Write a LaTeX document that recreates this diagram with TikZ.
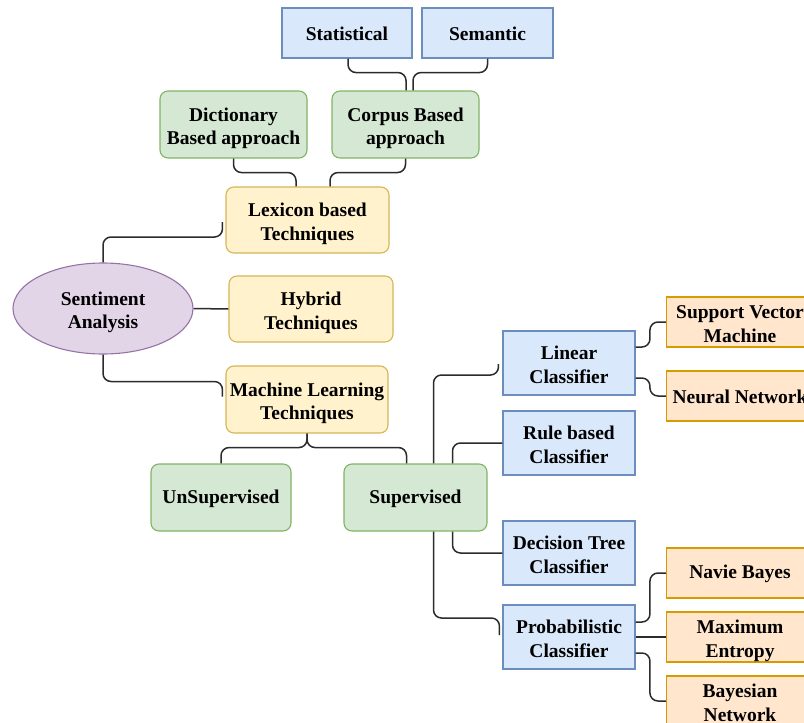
\documentclass[tikz,border=0pt]{standalone}
\usepackage{fontspec}
\setmainfont{Liberation Serif}
\usetikzlibrary{shapes.geometric,calc}
\definecolor{bluefill}{HTML}{DAE8FC}\definecolor{bluedraw}{HTML}{6C8EBF}
\definecolor{greenfill}{HTML}{D5E8D4}\definecolor{greendraw}{HTML}{82B366}
\definecolor{yellowfill}{HTML}{FFF2CC}\definecolor{yellowdraw}{HTML}{D6B656}
\definecolor{purplefill}{HTML}{E1D5E7}\definecolor{purpledraw}{HTML}{9673A6}
\definecolor{orangefill}{HTML}{FFE6CC}\definecolor{orangedraw}{HTML}{D79B00}
\definecolor{linecol}{HTML}{2B2B2B}
\newcommand\twoline[2]{\raisebox{-4pt}[\height][\depth]{\begin{tabular}{@{}c@{}}#1\\#2\end{tabular}}}
\newcommand\oneline[1]{\raisebox{-1pt}[\height][\depth]{#1}}
\tikzset{
  base/.style={align=center, inner sep=0pt, line width=1.1pt, text=black,
    font=\fontsize{19.5}{23.5}\selectfont\bfseries},
  bluebox/.style={base, rectangle, fill=bluefill, draw=bluedraw},
  greenbox/.style={base, rectangle, rounded corners=8pt, fill=greenfill, draw=greendraw},
  yellowbox/.style={base, rectangle, rounded corners=8pt, fill=yellowfill, draw=yellowdraw},
  orangebox/.style={base, rectangle, fill=orangefill, draw=orangedraw, minimum width=147pt, minimum height=50pt},
  purpleell/.style={base, ellipse, fill=purplefill, draw=purpledraw, minimum width=180pt, minimum height=91pt},
  conn/.style={draw=linecol, line width=1.5pt, rounded corners=8pt},
}
\begin{document}
\begin{tikzpicture}[x=1pt,y=-1pt]
\useasboundingbox (0,0) rectangle (804,723);
\clip (0,0) rectangle (804,723);
% nodes
\node[bluebox, minimum width=130pt, minimum height=50pt] (stat) at (347,33) {\oneline{Statistical}};
\node[bluebox, minimum width=131pt, minimum height=50pt] (sem) at (487.5,33) {\oneline{Semantic}};
\node[greenbox, minimum width=147pt, minimum height=67pt] (dict) at (233.5,124.5) {\twoline{Dictionary}{Based approach}};
\node[greenbox, minimum width=147pt, minimum height=67pt] (corp) at (405.5,124.5) {\twoline{Corpus Based}{approach}};
\node[yellowbox, minimum width=163pt, minimum height=66pt] (lex) at (307.5,220) {\twoline{Lexicon based}{Techniques}};
\node[purpleell] (sa) at (103,308.5) {\twoline{Sentiment}{Analysis}};
\node[yellowbox, minimum width=164pt, minimum height=66pt] (hyb) at (311,309) {\twoline{Hybrid}{Techniques}};
\node[yellowbox, minimum width=162pt, minimum height=67pt] (ml) at (307,399.5) {\twoline{Machine Learning}{Techniques}};
\node[greenbox, minimum width=140pt, minimum height=67pt] (uns) at (221,497.5) {\oneline{UnSupervised}};
\node[greenbox, minimum width=143pt, minimum height=67pt] (sup) at (415.5,497.5) {\oneline{Supervised}};
\node[bluebox, minimum width=132pt, minimum height=64pt] (lin) at (569,363) {\twoline{Linear}{Classifier}};
\node[bluebox, minimum width=132pt, minimum height=64pt] (rule) at (569,443) {\twoline{Rule based}{Classifier}};
\node[bluebox, minimum width=132pt, minimum height=64pt] (dec) at (569,553) {\twoline{Decision Tree}{Classifier}};
\node[bluebox, minimum width=132pt, minimum height=64pt] (prob) at (569,637) {\twoline{Probabilistic}{Classifier}};
\node[orangebox] (svm) at (740,322) {\twoline{Support Vector}{Machine}};
\node[orangebox] (nn) at (740,396) {\oneline{Neural Network}};
\node[orangebox] (nb) at (740,573) {\oneline{Navie Bayes}};
\node[orangebox] (me) at (740,637) {\twoline{Maximum}{Entropy}};
\node[orangebox] (bn) at (740,701) {\twoline{Bayesian}{Network}};
% connectors
\draw[conn] ([xshift=1pt]stat.south) -- ++(0,14) -| ([xshift=0.5pt]corp.north);
\draw[conn] (sem.south) -- ++(0,14) -| ([xshift=7.5pt]corp.north);
\draw[conn] (dict.south) -- ++(0,14) -| ([xshift=-11.5pt]lex.north);
\draw[conn] (corp.south) -- ++(0,14) -| ([xshift=22.5pt]lex.north);
\draw[conn] (sa.north) |- ([xshift=-3pt,yshift=-17pt]lex.west) -- ([xshift=-3pt,yshift=-2pt]lex.west);
\draw[conn] (sa.east) -- (hyb.west);
\draw[conn] (sa.south) |- ([xshift=-3pt,yshift=18pt]ml.west) -- ([xshift=-3pt,yshift=3pt]ml.west);
\draw[conn] (ml.south) -- ++(0,14) -| (uns.north);
\draw[conn] (ml.south) -- ++(0,14) -| ([xshift=-9pt]sup.north);
\draw[conn] ([xshift=18pt]sup.north) |- ([xshift=-4pt,yshift=-12pt]lin.west) -- ([xshift=-4pt,yshift=-1pt]lin.west);
\draw[conn] ([xshift=37pt]sup.north) |- (rule.west);
\draw[conn] ([xshift=37pt]sup.south) |- (dec.west);
\draw[conn] ([xshift=18pt]sup.south) |- ([xshift=-3pt,yshift=19pt]prob.west) -- ([xshift=-3pt,yshift=2pt]prob.west);
\draw[conn] ([yshift=16pt]lin.east) -| ([xshift=-16pt]svm.west) -- (svm.west);
\draw[conn] ([yshift=-15pt]lin.east) -| ([xshift=-16pt]nn.west) -- (nn.west);
\draw[conn] ([yshift=15pt]prob.east) -| ([xshift=-16pt]nb.west) -- (nb.west);
\draw[conn] (prob.east) -- (me.west);
\draw[conn] ([yshift=-16pt]prob.east) -| ([xshift=-16pt]bn.west) -- (bn.west);
\end{tikzpicture}
\end{document}
